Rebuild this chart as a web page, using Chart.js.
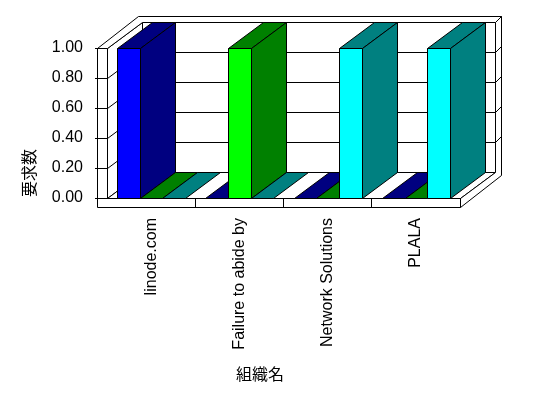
<!DOCTYPE html>
<html>
<head>
<meta charset="utf-8">
<title>要求数</title>
<script src="https://cdn.jsdelivr.net/npm/chart.js@4.4.1/dist/chart.umd.min.js"></script>
<style>
  html, body { margin: 0; padding: 0; background: #fff; }
  #wrap { width: 548px; height: 398px; position: relative; }
</style>
</head>
<body>
<div id="wrap"><canvas id="chart"></canvas></div>
<script>
// values
const categories = ["linode.com", "Failure to abide by", "Network Solutions", "PLALA"];
const seriesNames = ["系列1", "系列2", "系列3"];
const series1 = [1, 0, 0, 0];
const series2 = [0, 1, 0, 0];
const series3 = [0, 0, 1, 1];
const yTickValues = [0, 0.2, 0.4, 0.6, 0.8, 1.0];
const xTitle = "組織名";
const yTitle = "要求数";

// front face / side+top face colours
const frontColors = ["#0000ff", "#00ff00", "#00ffff"];
const sideColors = ["#000080", "#008000", "#008080"];

// old style 3d look
const DX = 35, DY = -26;   // depth of the plot box
const TX = 6, TY = -6;     // thickness of the back wall
const WALL = 10;           // left wall thickness
const FLOOR = 9;           // floor thickness

const FONT = '"Liberation Sans", "Noto Sans CJK JP", sans-serif';
Chart.defaults.font.family = FONT;
Chart.defaults.font.size = 16;
Chart.defaults.color = "#000";

function pt(p) {
    return [Math.round(p[0]) + 0.5, Math.round(p[1]) + 0.5];
}

function poly(ctx, pts, fill) {
    ctx.beginPath();
    pts.forEach((p, i) => {
        const [x, y] = pt(p);
        if (i === 0) ctx.moveTo(x, y); else ctx.lineTo(x, y);
    });
    ctx.closePath();
    if (fill) {
        ctx.fillStyle = fill;
        ctx.fill();
    }
    ctx.strokeStyle = "#000";
    ctx.lineWidth = 1;
    ctx.stroke();
}

function line(ctx, a, b) {
    const [x1, y1] = pt(a);
    const [x2, y2] = pt(b);
    ctx.beginPath();
    ctx.moveTo(x1, y1);
    ctx.lineTo(x2, y2);
    ctx.strokeStyle = "#000";
    ctx.lineWidth = 1;
    ctx.stroke();
}

//Walls, floor and the gridlines on them
const frame3d = {
    id: "frame3d",
    beforeDraw(chart) {
        const ctx = chart.ctx;
        const { left: L, right: R, top: T, bottom: B } = chart.chartArea;
        ctx.save();
        ctx.fillStyle = "#fff";
        ctx.fillRect(0, 0, chart.width, chart.height);

        // back wall
        poly(ctx, [[L + DX, T + DY], [R + DX, T + DY], [R + DX, B + DY], [L + DX, B + DY]], "#fff");
        // inner side of the left wall
        poly(ctx, [[L, T], [L + DX, T + DY], [L + DX, B + DY], [L, B]], "#fff");
        // floor top
        poly(ctx, [[L, B], [R, B], [R + DX, B + DY], [L + DX, B + DY]], "#fff");
        // top edge of left + back wall
        poly(ctx, [[L - WALL, T], [L, T], [L + DX, T + DY], [R + DX, T + DY],
                   [R + DX + TX, T + DY + TY], [L - WALL + DX + TX, T + DY + TY]], "#fff");
        // right side of floor + back wall
        poly(ctx, [[R, B], [R, B + FLOOR], [R + DX + TX, B + FLOOR + DY + TY],
                   [R + DX + TX, T + DY + TY], [R + DX, T + DY], [R + DX, B + DY]], "#fff");
        // front faces
        poly(ctx, [[L - WALL, T], [L, T], [L, B], [L - WALL, B]], "#fff");
        poly(ctx, [[L - WALL, B], [R, B], [R, B + FLOOR], [L - WALL, B + FLOOR]], "#fff");

        // gridlines
        const ys = chart.scales.y;
        ys.ticks.forEach(t => {
            if (t.value <= ys.min || t.value >= ys.max) return;
            const y = ys.getPixelForValue(t.value);
            line(ctx, [L, y], [L + DX, y + DY]);
            line(ctx, [L + DX, y + DY], [R + DX, y + DY]);
            line(ctx, [R + DX, y + DY], [R + DX + TX, y + DY + TY]);
        });
        ctx.restore();
    }
};

//Bars as boxes, painted left to right
const bars3d = {
    id: "bars3d",
    beforeDatasetsDraw(chart) {
        const ctx = chart.ctx;
        const items = [];
        chart.data.datasets.forEach((ds, i) => {
            chart.getDatasetMeta(i).data.forEach(el => items.push({ el, i }));
        });
        items.sort((a, b) => a.el.x - b.el.x);
        ctx.save();
        items.forEach(({ el, i }) => {
            const x0 = el.x - el.width / 2;
            const x1 = el.x + el.width / 2;
            const top = Math.min(el.y, el.base);
            const base = Math.max(el.y, el.base);
            poly(ctx, [[x0, top], [x1, top], [x1 + DX, top + DY], [x0 + DX, top + DY]], sideColors[i]);
            if (base - top > 0.5) {
                poly(ctx, [[x1, top], [x1 + DX, top + DY], [x1 + DX, base + DY], [x1, base]], sideColors[i]);
                poly(ctx, [[x0, top], [x1, top], [x1, base], [x0, base]], frontColors[i]);
            }
        });
        ctx.restore();
        return false;
    }
};

//Axis titles sit where the original put them, not centred on the axis
const titles = {
    id: "titles",
    afterDraw(chart) {
        const ctx = chart.ctx;
        ctx.save();
        ctx.font = "16px " + FONT;
        ctx.fillStyle = "#000";
        ctx.textAlign = "center";
        ctx.textBaseline = "middle";
        ctx.fillText(xTitle, 260, 376);
        ctx.translate(31, 173);
        ctx.rotate(-Math.PI / 2);
        ctx.fillText(yTitle, 0, 0);
        ctx.restore();
    }
};

const allSeries = [series1, series2, series3];

new Chart(document.getElementById("chart"), {
    type: "bar",
    data: {
        labels: categories,
        datasets: allSeries.map((values, i) => ({
            label: seriesNames[i],
            data: values,
            backgroundColor: frontColors[i],
            borderColor: "#000",
            borderWidth: 1,
            categoryPercentage: 0.77,
            barPercentage: 1
        }))
    },
    options: {
        responsive: true,
        maintainAspectRatio: false,
        animation: false,
        layout: { padding: { top: 48, right: 88, bottom: 0, left: 0 } },
        plugins: {
            legend: { display: false },
            tooltip: { enabled: false }
        },
        scales: {
            x: {
                offset: true,
                grid: {
                    offset: true,
                    drawOnChartArea: false,
                    tickLength: FLOOR,
                    color: c => c.index === 0 ? "rgba(0,0,0,0)" : "#000"
                },
                border: { display: false },
                ticks: { minRotation: 90, maxRotation: 90, autoSkip: false, padding: 11 },
                afterFit: s => { s.height = 200; }
            },
            y: {
                min: yTickValues[0],
                max: yTickValues[yTickValues.length - 1],
                grid: { drawOnChartArea: false, tickLength: 12, color: "#000" },
                border: { display: false },
                ticks: {
                    stepSize: yTickValues[1] - yTickValues[0],
                    padding: 12,
                    callback: v => v.toFixed(2)
                },
                afterFit: s => { s.width = 107; }
            }
        }
    },
    plugins: [frame3d, bars3d, titles]
});
</script>
</body>
</html>
